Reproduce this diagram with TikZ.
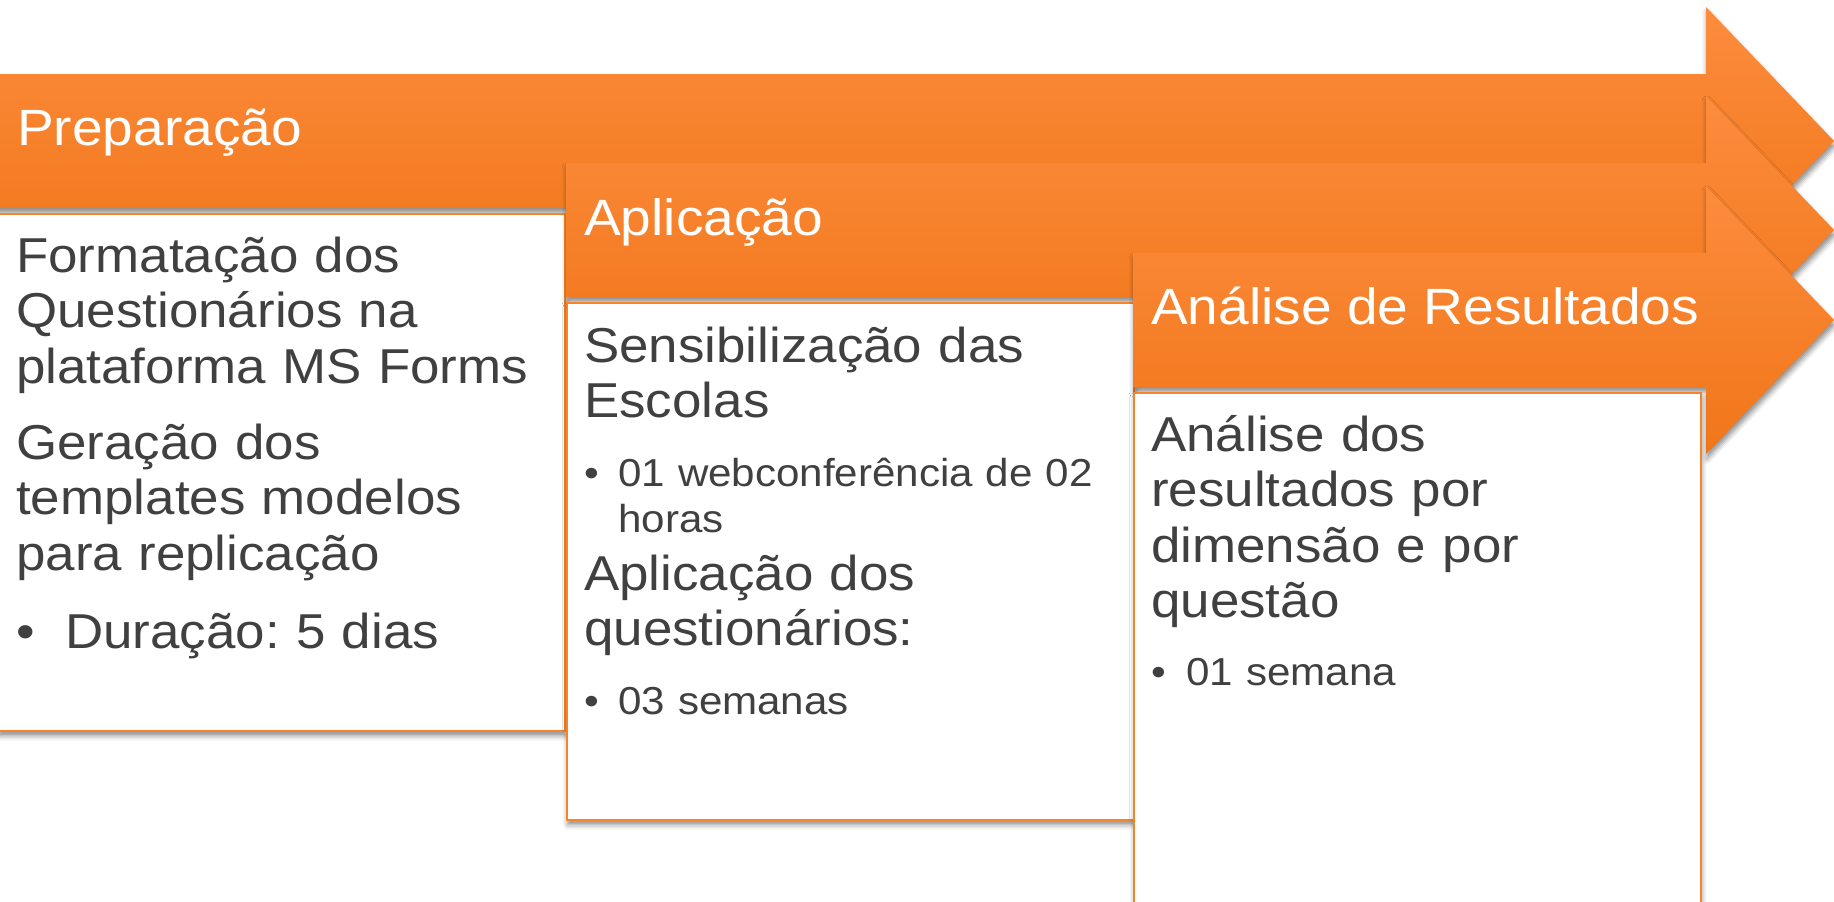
\documentclass[tikz,border=0pt]{standalone}
\usepackage{fontspec}
\setmainfont{Liberation Sans}[FakeStretch=1.08]
\usetikzlibrary{shadows.blur}
\frenchspacing

\definecolor{arrowtop}{RGB}{253,140,62}
\definecolor{arrowbot}{RGB}{240,118,24}
\definecolor{boxline}{RGB}{247,132,42}
\definecolor{bodytext}{RGB}{64,64,64}

\begin{document}
\begin{tikzpicture}[x=1pt, y=-1pt,
        phase/.style={top color=arrowtop, bottom color=arrowbot,
                blur shadow={shadow xshift=1pt, shadow yshift=-5pt, shadow blur radius=5pt, shadow opacity=45}},
        phasetitle/.style={anchor=base west, inner sep=0pt, text=white, font=\fontsize{51}{56}\selectfont},
        detailbox/.style={anchor=north west, draw=boxline, line width=1.5pt, fill=white, inner sep=0pt,
                minimum width=567pt, minimum height=517pt,
                blur shadow={shadow xshift=1pt, shadow yshift=-5pt, shadow blur radius=5pt, shadow opacity=45}},
        maintext/.style={anchor=base west, inner sep=0pt, text=bodytext, text width=560pt, align=left,
                font=\fontsize{49}{55.5}\selectfont},
        bullettext/.style={maintext, font=\fontsize{39}{46}\selectfont}]

    \useasboundingbox (0,0) rectangle (1834,902);

    % Preparacao
    \path[phase] (-10,74) -- (1706,74) -- (1706,7) -- (1834,141) -- (1706,275) -- (1706,208) -- (-10,208) -- cycle;
    \node[phasetitle] (prep) at (17,145) {Preparação};
    \node[detailbox] (box1) at (-3,213) {};
    \node[maintext] (prep1) at (16,272) {Formatação dos\\Questionários na\\plataforma MS Forms};
    \node[maintext] (prep2) at (16,459) {Geração dos\\templates modelos\\para replicação};
    \node[maintext] (prep3) at (16,648) {\makebox[49pt][l]{•}Duração: 5 dias};

    % Aplicacao
    \path[phase] (566,163) -- (1706,163) -- (1706,96) -- (1834,230) -- (1706,364) -- (1706,297) -- (566,297) -- cycle;
    \node[phasetitle] (apl) at (584,235) {Aplicação};
    \node[detailbox] (box2) at (566,302) {};
    \node[maintext] (apl1) at (584,362) {Sensibilização das\\Escolas};
    \node[bullettext] (apl2) at (584,486) {\makebox[34pt][l]{•}01 webconferência de 02\\\hspace*{34pt}horas};
    \node[maintext] (apl3) at (584,590) {Aplicação dos\\questionários:};
    \node[bullettext] (apl4) at (584,714) {\makebox[34pt][l]{•}03 semanas};

    % Analise
    \path[phase] (1133,253) -- (1706,253) -- (1706,186) -- (1834,320) -- (1706,454) -- (1706,387) -- (1133,387) -- cycle;
    \node[phasetitle] (ana) at (1151,324) {Análise de Resultados};
    \node[detailbox] (box3) at (1133,392) {};
    \node[maintext] (ana1) at (1151,451) {Análise dos\\resultados por\\dimensão e por\\questão};
    \node[bullettext] (ana2) at (1151,685) {\makebox[35pt][l]{•}01 semana};

\end{tikzpicture}
\end{document}
